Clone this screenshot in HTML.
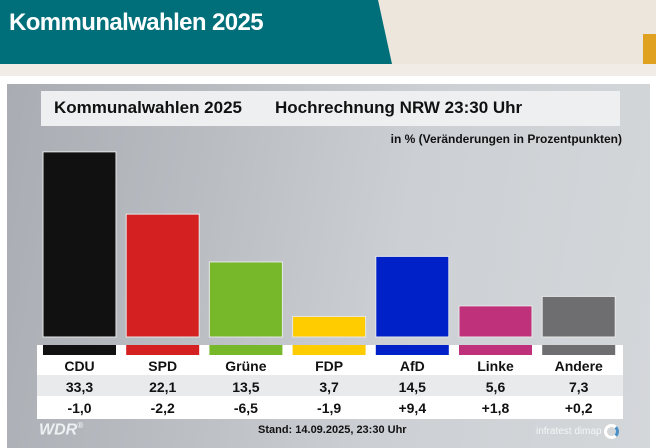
<!DOCTYPE html>
<html><head><meta charset="utf-8">
<style>
body{margin:0;width:656px;height:448px;overflow:hidden;font-family:"Liberation Sans",sans-serif;background:#fff;position:relative}
.abs{position:absolute}
</style></head><body>
<div class="abs" style="left:0;top:0;width:656px;height:76px;background:#ece6dc"></div>
<div class="abs" style="left:643px;top:34px;width:13px;height:30px;background:#e0a020"></div>
<svg class="abs" style="left:0;top:0" width="656" height="76">
<polygon points="0,0 378,0 392,64 0,64" fill="#006f79"/>
<rect x="0" y="64" width="656" height="12" fill="#f1ede6"/>
</svg>
<div class="abs" style="left:9px;top:9px;color:#fff;font-size:24px;font-weight:bold;letter-spacing:-0.6px">Kommunalwahlen 2025</div>
<div class="abs" style="left:7px;top:84px;width:643px;height:364px;background:linear-gradient(100deg,#a9adb3 0%,#b9bdc2 30%,#ccd0d4 60%,#d4d7da 100%)"></div>
<div class="abs" style="left:41px;top:91px;width:579px;height:35px;background:#eeeff0"></div>
<div class="abs" style="left:54px;top:98px;font-size:17px;font-weight:bold;color:#111">Kommunalwahlen 2025</div>
<div class="abs" style="left:275px;top:98px;font-size:17px;font-weight:bold;color:#111">Hochrechnung NRW 23:30 Uhr</div>
<div class="abs" style="right:34px;top:132px;font-size:12px;font-weight:bold;color:#111">in % (Veränderungen in Prozentpunkten)</div>
<div class="abs" style="left:37px;top:345px;width:586px;height:74px;background:#fff"></div>
<div class="abs" style="left:37px;top:375px;width:586px;height:21px;background:#e9eaec"></div>
<div class="abs" style="left:39px;top:421px;font-size:16px;font-weight:bold;color:#eef0f2;font-style:italic">WDR<sup style="font-size:8px">®</sup></div>
<div class="abs" style="left:258px;top:424px;font-size:11px;font-weight:bold;color:#111">Stand: 14.09.2025, 23:30 Uhr</div>
<div class="abs" style="left:536px;top:424px;font-size:10px;color:#f4f5f6">infratest dimap <span style="display:inline-block;width:9px;height:9px;border:3px solid #fff;border-radius:50%;vertical-align:middle;border-right-color:#4a90c8"></span></div>
<svg id="chart" class="abs" style="left:0;top:0" width="656" height="448"></svg>
<script>
const parties=["CDU","SPD","Grüne","FDP","AfD","Linke","Andere"];
const values=[33.3,22.1,13.5,3.7,14.5,5.6,7.3];
const changes=["-1,0","-2,2","-6,5","-1,9","+9,4","+1,8","+0,2"];
const colors=["#111111","#d42020","#76b82a","#ffcc00","#0020c8","#c0317c","#6e6e70"];
const svg=document.getElementById('chart');
const NS="http://www.w3.org/2000/svg";
const x0=43,pitch=83.2,bw=73,base=337,scale=5.56;
function xs(i){return x0+i*pitch;}
function ys(v){return base-v*scale;}
function txt(x,y,s,size,name){const t=document.createElementNS(NS,'text');t.setAttribute('x',x);t.setAttribute('y',y);t.setAttribute('text-anchor','middle');t.setAttribute('font-size',size);t.setAttribute('font-weight','bold');t.setAttribute('fill','#111');t.textContent=s;


svg.appendChild(t);}
parties.forEach((p,i)=>{
 const r=document.createElementNS(NS,'rect');
 r.setAttribute('x',xs(i));r.setAttribute('y',ys(values[i]));r.setAttribute('width',bw);r.setAttribute('height',base-ys(values[i]));
 r.setAttribute('fill',colors[i]);r.setAttribute('stroke','#e6e6e6');r.setAttribute('stroke-width','1');
 
 
 svg.appendChild(r);
 const s=document.createElementNS(NS,'rect');
 s.setAttribute('x',xs(i));s.setAttribute('y',345);s.setAttribute('width',bw);s.setAttribute('height',10);s.setAttribute('fill',colors[i]);
 
 
 svg.appendChild(s);
 const cx=xs(i)+bw/2;
 txt(cx,371,p,14,'party-label');
 txt(cx,392,values[i].toFixed(1).replace('.',','),14,'value-label');
 txt(cx,413,changes[i],14,'change-label');
});
</script>
</body></html>
